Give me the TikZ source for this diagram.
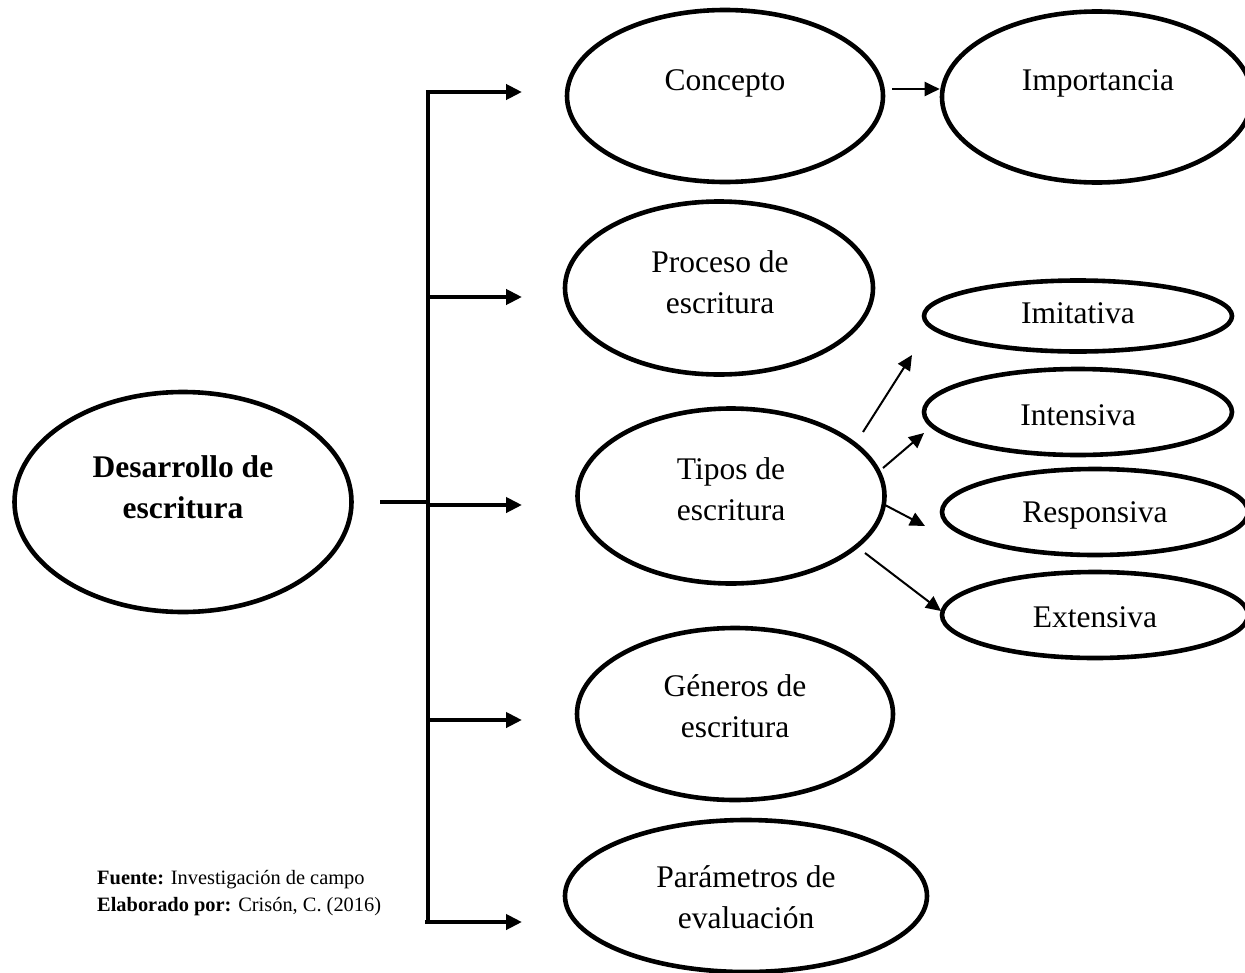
\documentclass[tikz,border=0pt]{standalone}
\usepackage{fontspec}
\setmainfont{Liberation Serif}
\usetikzlibrary{shapes.geometric,arrows.meta}
\begin{document}
\begin{tikzpicture}[x=1pt,y=-1pt,
  oval/.style={ellipse, draw, line width=4.6pt, inner sep=0pt},
  lbl/.style={font=\fontsize{31.5}{41}\selectfont, align=center, inner sep=0pt},
  trunk/.style={line width=4.5pt},
  bigarrow/.style={line width=4.5pt, -{Triangle[length=16pt,width=15pt]}},
  smallarrow/.style={line width=2pt, -{Triangle[length=15pt,width=14pt]}}
]
\useasboundingbox (0,0) rectangle (1245,972);

% ellipses
\node[oval, minimum width=337pt, minimum height=220pt] (des) at (183,502) {};
\node[oval, minimum width=316pt, minimum height=172pt] (con) at (725,96) {};
\node[oval, minimum width=310pt, minimum height=171pt] (imp) at (1097,97) {};
\node[oval, minimum width=308pt, minimum height=173pt] (pro) at (719,288) {};
\node[oval, minimum width=307pt, minimum height=175pt] (tip) at (731,496) {};
\node[oval, minimum width=316pt, minimum height=172pt] (gen) at (735,714) {};
\node[oval, minimum width=362pt, minimum height=152pt] (par) at (746,896) {};
\node[oval, minimum width=308pt, minimum height=71pt] (imi) at (1078,316) {};
\node[oval, minimum width=308pt, minimum height=86pt] (int) at (1078,412) {};
\node[oval, minimum width=306pt, minimum height=86pt] (res) at (1095,512) {};
\node[oval, minimum width=306pt, minimum height=86pt] (ext) at (1095,615) {};

% texts
\node[lbl, font=\fontsize{31.5}{41}\selectfont\bfseries] (desT) at (183,487) {Desarrollo de\\escritura};
\node[lbl] (conT) at (725,83) {Concepto};
\node[lbl] (impT) at (1098,83) {Importancia};
\node[lbl] (proT) at (720,282) {Proceso de\\escritura};
\node[lbl] (tipT) at (731,489) {Tipos de\\escritura};
\node[lbl] (genT) at (735,706) {Géneros de\\escritura};
\node[lbl] (parT) at (746,897) {Parámetros de\\evaluación};
\node[lbl] (imiT) at (1078,313) {Imitativa};
\node[lbl] (intT) at (1078,415) {Intensiva};
\node[lbl] (resT) at (1095,515) {Responsiva};
\node[lbl] (extT) at (1095,617) {Extensiva};

\node[anchor=west, align=left, inner sep=0pt, font=\fontsize{20.4}{27}\selectfont] (foot) at (97,893)
  {\textbf{Fuente:} Investigación de campo\\\textbf{Elaborado por:} Crisón, C. (2016)};

% trunk
\coordinate (t1) at (428,90);
\coordinate (t2) at (428,297);
\coordinate (t3) at (428,505);
\coordinate (t4) at (428,720);
\coordinate (t5) at (428,924);
\coordinate (s0) at (380,502);
\coordinate (s1) at (428,502);
\coordinate (a1) at (522,92);
\coordinate (a2) at (522,297);
\coordinate (a3) at (522,505);
\coordinate (a4) at (522,720);
\coordinate (a5) at (522,922);

\draw[trunk] (t1) -- (t5);
\draw[trunk] (s0) -- (s1);
\draw[bigarrow] ([xshift=-2.25pt]t1 |- a1) -- (a1);
\draw[bigarrow] (t2) -- (a2);
\draw[bigarrow] (t3) -- (a3);
\draw[bigarrow] (t4) -- (a4);
\draw[bigarrow] ([xshift=-3pt]t5 |- a5) -- (a5);

% small arrows
\coordinate (c1) at (892,89);
\draw[smallarrow] (c1) -- (c1 -| imp.west);

\coordinate (b1s) at (863,432); \coordinate (b1e) at (912,355);
\coordinate (b2s) at (883,468); \coordinate (b2e) at (924,433);
\coordinate (b3s) at (885,505); \coordinate (b3e) at (925,526);
\coordinate (b4s) at (865,553); \coordinate (b4e) at (941,611);
\draw[smallarrow] (b1s) -- (b1e);
\draw[smallarrow] (b2s) -- (b2e);
\draw[smallarrow] (b3s) -- (b3e);
\draw[smallarrow] (b4s) -- (b4e);
\end{tikzpicture}
\end{document}
